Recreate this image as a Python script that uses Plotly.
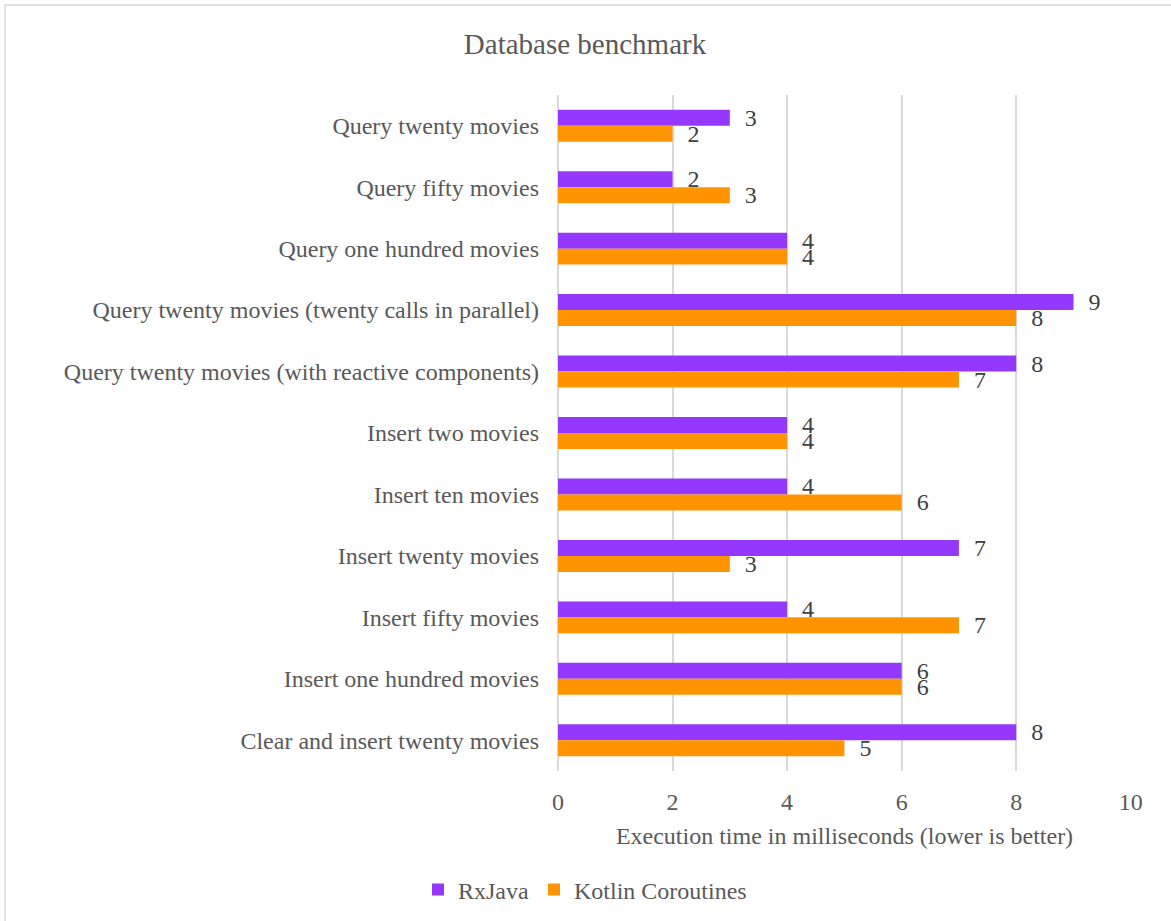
import plotly.graph_objects as go

categories = [
    "Query twenty movies",
    "Query fifty movies",
    "Query one hundred movies",
    "Query twenty movies (twenty calls in parallel)",
    "Query twenty movies (with reactive components)",
    "Insert two movies",
    "Insert ten movies",
    "Insert twenty movies",
    "Insert fifty movies",
    "Insert one hundred movies",
    "Clear and insert twenty movies",
]
rxjava = [3, 2, 4, 9, 8, 4, 4, 7, 4, 6, 8]
kotlin = [2, 3, 4, 8, 7, 4, 6, 3, 7, 6, 5]
x_ticks = [0, 2, 4, 6, 8, 10]

FONT = "Liberation Serif, Times New Roman, serif"
GREY = "#595959"
FS = 24

fig = go.Figure()
for name, vals, col in [("RxJava", rxjava, "#9538FE"), ("Kotlin Coroutines", kotlin, "#FF9300")]:
    fig.add_trace(go.Bar(
        y=categories, x=vals, orientation="h", name=name,
        marker=dict(color=col, line=dict(width=0)),
        text=vals, texttemplate="  %{x}", textposition="outside",
        constraintext="none",
        textfont=dict(family=FONT, size=FS, color="#404040"), cliponaxis=False,
    ))

# screen-space layout (body margin removed below)
SW, SH = 1171, 921
PX0, PX1 = 558, 1131   # plot area x on screen
PY0, PY1 = 95, 771     # plot area y on screen
W, H = SW, SH
L = PX0
T = PY0
R = W - L - (PX1 - PX0)
B = H - T - (PY1 - PY0)
pw, ph = PX1 - PX0, PY1 - PY0

def px_x(p):
    return (p - PX0) / pw

def px_y(p):
    return (PY1 - p) / ph

fig.update_layout(
    width=W, height=H,
    margin=dict(l=L, r=R, t=T, b=B),
    paper_bgcolor="white", plot_bgcolor="white",
    barmode="group", bargap=0.48, bargroupgap=0,
    font=dict(family=FONT, color=GREY, size=FS),
    title=dict(text="Database benchmark", x=585 / W, xref="container", xanchor="center",
               y=1 - 44 / H, yref="container", yanchor="middle",
               font=dict(family=FONT, size=29, color=GREY)),
    xaxis=dict(range=[0, 10.004], tickvals=x_ticks, showgrid=True, gridcolor="#D9D9D9",
               gridwidth=1.5, zeroline=True, zerolinecolor="#D9D9D9", zerolinewidth=1.5,
               showline=False,
               ticks="", ticklabelstandoff=14,
               tickfont=dict(family=FONT, size=FS, color=GREY),
               title=dict(text="Execution time in milliseconds (lower is better)",
                          font=dict(family=FONT, size=FS, color=GREY), standoff=13)),
    yaxis=dict(autorange="reversed", showgrid=False, zeroline=False, showline=False,
               ticks="", ticksuffix="   ",
               tickfont=dict(family=FONT, size=FS, color=GREY)),
    legend=dict(orientation="h", x=585 / W, xref="container", xanchor="center",
                y=(SH - 890) / H, yref="container", yanchor="middle",
                font=dict(family=FONT, size=FS, color=GREY),
                itemwidth=30, traceorder="normal"),
    shapes=[dict(type="rect", xref="paper", yref="paper",
                 x0=px_x(5), x1=px_x(1200), y0=px_y(960), y1=px_y(5),
                 line=dict(color="#D9D9D9", width=1.5), fillcolor="rgba(0,0,0,0)",
                 layer="below")],
)

fig.write_html("out.html", config={"displayModeBar": False},
               post_script="document.body.style.margin='0';document.body.style.overflow='hidden';")
